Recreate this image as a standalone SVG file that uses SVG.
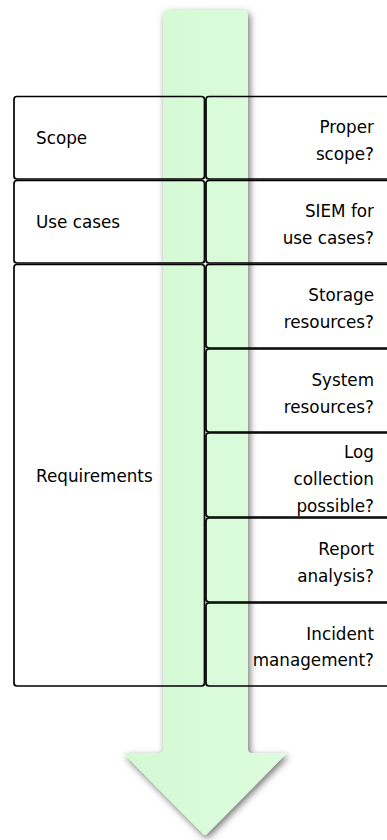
<svg xmlns="http://www.w3.org/2000/svg" width="387" height="840" viewBox="0 0 387 840">
<style>
.box{fill:none;stroke:#000;stroke-width:1.7}
.t{font-family:"DejaVu Sans",sans-serif;font-size:16.8px;fill:#000}
.r{text-anchor:end}
</style>
<defs>
<linearGradient id="g" x1="0" y1="0" x2="1" y2="0">
<stop offset="0" stop-color="#d3f9d3"/>
<stop offset="1" stop-color="#ddfcdd"/>
</linearGradient>
<filter id="sh" x="-30%" y="-5%" width="160%" height="110%">
<feDropShadow dx="2" dy="3" stdDeviation="3.5" flood-color="#000" flood-opacity="0.55"/>
</filter>
</defs>
<rect width="387" height="840" fill="#fff"/>
<g id="connectors">
<path id="flow-arrow" filter="url(#sh)" fill="url(#g)" d="M163,15 Q163,10 168,10 L243,10 Q248,10 248,15 L248,750 Q248,753 251,753 L284,753 Q287,753 285,755 L207,834 Q205,836 203,834 L125,755 Q123,753 126,753 L160,753 Q163,753 163,750 Z"/>
</g>
<g id="scope">
<rect class="box" x="14" y="96.5" width="190.5" height="82.5" rx="3"/>
<text class="t" x="36" y="144">Scope</text>
</g>
<g id="proper-scope">
<rect class="box" x="206" y="96.5" width="200" height="82.5" rx="3"/>
<text class="t r" x="374" y="132.5">Proper</text>
<text class="t r" x="374" y="159.5">scope?</text>
</g>
<g id="use-cases">
<rect class="box" x="14" y="180.5" width="190.5" height="82.5" rx="3"/>
<text class="t" x="36" y="228">Use cases</text>
</g>
<g id="siem-use-cases">
<rect class="box" x="206" y="180.5" width="200" height="82.5" rx="3"/>
<text class="t r" x="374" y="216.5">SIEM for</text>
<text class="t r" x="374" y="243.5">use cases?</text>
</g>
<g id="requirements">
<rect class="box" x="14" y="264.5" width="190.5" height="421.5" rx="3"/>
<text class="t" x="36" y="482">Requirements</text>
</g>
<g id="storage">
<rect class="box" x="206" y="264.5" width="200" height="83.5" rx="3"/>
<text class="t r" x="374" y="301">Storage</text>
<text class="t r" x="374" y="328">resources?</text>
</g>
<g id="system">
<rect class="box" x="206" y="349" width="200" height="83" rx="3"/>
<text class="t r" x="374" y="385.5">System</text>
<text class="t r" x="374" y="412.5">resources?</text>
</g>
<g id="log">
<rect class="box" x="206" y="433" width="200" height="84" rx="3"/>
<text class="t r" x="374" y="457.5">Log</text>
<text class="t r" x="374" y="484.5">collection</text>
<text class="t r" x="374" y="511.5">possible?</text>
</g>
<g id="report">
<rect class="box" x="206" y="518" width="200" height="84" rx="3"/>
<text class="t r" x="374" y="555">Report</text>
<text class="t r" x="374" y="581.5">analysis?</text>
</g>
<g id="incident">
<rect class="box" x="206" y="603" width="200" height="83" rx="3"/>
<text class="t r" x="374" y="639.5">Incident</text>
<text class="t r" x="374" y="666">management?</text>
</g>
</svg>
